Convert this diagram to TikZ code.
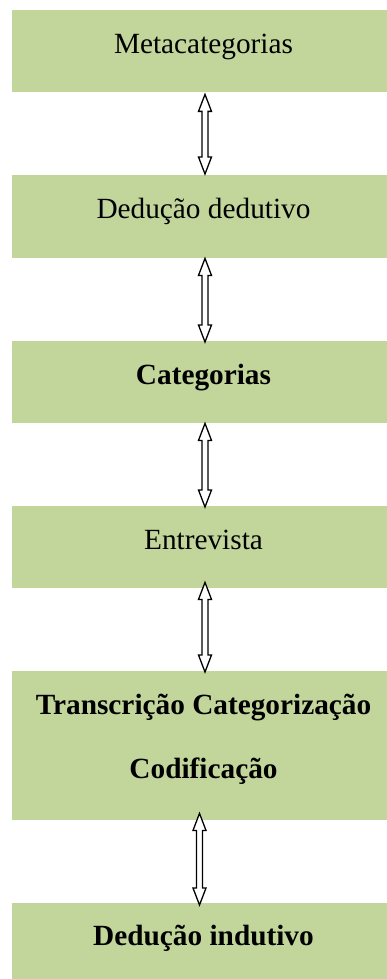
\documentclass[tikz,border=0pt]{standalone}
\usepackage{fontspec}
\setmainfont{Liberation Serif}
\usetikzlibrary{calc}
\definecolor{boxgreen}{HTML}{C2D69B}
\newcommand\sh[1]{\hspace*{8pt}#1}
\tikzset{
  box/.style={rectangle, fill=boxgreen, draw=none, inner sep=0pt,
    minimum width=375pt, anchor=north,
    font=\fontsize{29.3}{64}\selectfont, align=center},
  dbl/.style={draw=black, fill=white, line width=1.3pt, line join=miter},
}
\newcommand\dblarr[6]{% #1 upper node, #2 lower node, #3 x offset, #4 top offset, #5 bottom offset
  \draw[dbl] let \p1=($(#1.south)+(#3,#4)$), \p2=($(#2.north)+(#3,#5)$) in
    (\x1,\y1) -- (\x1+6.5pt,\y1-17pt) -- (\x1+3pt,\y1-17pt) -- (\x1+3pt,\y2+17pt)
    -- (\x1+6.5pt,\y2+17pt) -- (\x1,\y2) -- (\x1-6.5pt,\y2+17pt) -- (\x1-3pt,\y2+17pt)
    -- (\x1-3pt,\y1-17pt) -- (\x1-6.5pt,\y1-17pt) -- cycle;}
\begin{document}
\begin{tikzpicture}[x=1pt,y=-1pt]
\useasboundingbox (0,0) rectangle (387,979);
\node[box, minimum height=82pt, text height=20pt, text depth=16pt] (b1) at (199.5,10) {\sh{Metacategorias}};
\node[box, minimum height=83pt, text height=20pt, text depth=17pt] (b2) at (199.5,175) {\sh{Dedução dedutivo}};
\node[box, minimum height=82pt, text height=20pt, text depth=16pt] (b3) at (199.5,341) {\sh{\textbf{Categorias}}};
\node[box, minimum height=82pt, text height=20pt, text depth=16pt] (b4) at (199.5,506) {\sh{Entrevista}};
\node[box, minimum height=149pt, text height=85pt, text depth=20pt] (b5) at (199.5,671) {\sh{\textbf{Transcrição Categorização}}\\\sh{\textbf{Codificação}}};
\node[box, minimum height=76pt, text height=20pt, text depth=12pt] (b6) at (199.5,903) {\sh{\textbf{Dedução indutivo}}};
\dblarr{b1}{b2}{5.5}{2}{-1}{}
\dblarr{b2}{b3}{5.5}{0}{1}{}
\dblarr{b3}{b4}{5.5}{0}{1}{}
\dblarr{b4}{b5}{5.5}{-6}{1}{}
\dblarr{b5}{b6}{0}{-7}{2}{}
\end{tikzpicture}
\end{document}
